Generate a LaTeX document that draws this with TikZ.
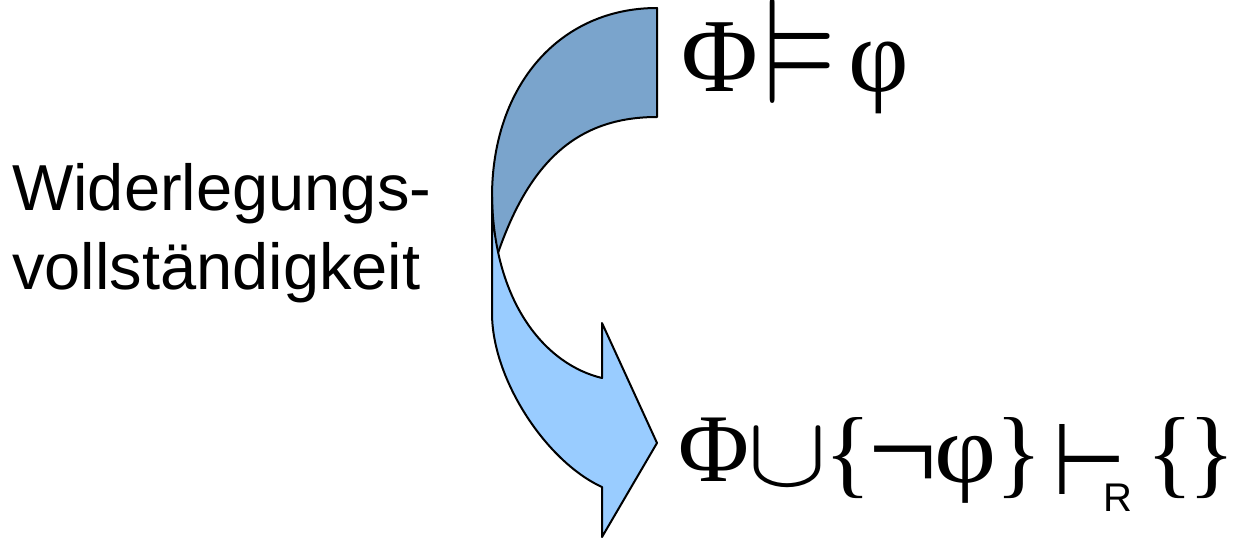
\documentclass[tikz,border=0pt]{standalone}
\usepackage{amssymb}
\usepackage{fontspec}
\usepackage{graphicx}
\setmainfont{Liberation Sans}
\newfontfamily\serifgr{Liberation Serif}
\newfontfamily\symf{DejaVu Sans}
\definecolor{darkband}{RGB}{122,164,204}
\definecolor{lightband}{RGB}{153,204,255}
\begin{document}
\begin{tikzpicture}[x=1pt,y=-1pt,
  band/.style={draw=black, line width=2pt, line join=round},
  glyph/.style={inner sep=0pt, anchor=center},
  label/.style={inner sep=0pt, anchor=base west, font=\fontsize{65}{78}\selectfont}]
\useasboundingbox (0,0) rectangle (1236,540);
% curved arrow: back (dark) band
\draw[band, fill=darkband] (657,8) .. controls (560,8) and (492,85) .. (492,197)
  -- (492,272) -- (496,266) -- (498,253)
  .. controls (529.5,162) and (577,117) .. (657,117) -- cycle;
% front (light) band with arrow head
\draw[band, fill=lightband] (492,197) -- (492,313)
  .. controls (492,380) and (547,462) .. (602,487)
  -- (602,537) -- (657,443) -- (602,323) -- (602,378)
  .. controls (547,365) and (494,305) .. (492,197) -- cycle;
% left label
\node[label] (wid) at (12,211) {Widerlegungs-};
\node[label] (voll) at (12,289) {vollständigkeit};
% top formula
\node[glyph, font=\serifgr\fontsize{105}{105}\selectfont] (phiA) at (719.5,57.5) {Φ};
\node[inner sep=0pt, anchor=base] (models) at (800.1,103.3)
  {\raisebox{0pt}[80pt][0pt]{\scalebox{12}[15.1]{$\vDash$}}};
\node[glyph, font=\serifgr\fontsize{105}{105}\selectfont] (varphiA) at (879,77.5) {φ};
% bottom formula
\node[glyph, font=\serifgr\fontsize{97}{97}\selectfont] (phiB) at (713.5,450) {Φ};
\node[glyph] (cup) at (787.5,457.5) {\scalebox{12}[10]{$\cup$}};
\node[glyph, font=\serifgr\fontsize{98}{98}\selectfont] (lbr) at (848,458.5) {\{};
\node[glyph, font=\serifgr\fontsize{98}{98}\selectfont] (neg) at (903,468.5) {\scalebox{1.25}[1.3]{¬}};
\node[glyph, font=\serifgr\fontsize{98}{98}\selectfont] (varphiB) at (965.5,469.5) {\scalebox{1.1}[1]{φ}};
\node[glyph, font=\serifgr\fontsize{98}{98}\selectfont] (rbr) at (1019,458.5) {\}};
\node[glyph, font=\symf\fontsize{100}{100}\selectfont] (vdash) at (1089.5,459.5) {\scalebox{0.85}[1]{⊢}};
\node[glyph, font=\fontsize{40}{40}\selectfont] (sub) at (1117.5,497.5) {R};
\node[glyph, font=\serifgr\fontsize{98}{98}\selectfont] (lbr2) at (1170.5,458.5) {\{};
\node[glyph, font=\serifgr\fontsize{98}{98}\selectfont] (rbr2) at (1212.5,458.5) {\}};
\end{tikzpicture}
\end{document}
